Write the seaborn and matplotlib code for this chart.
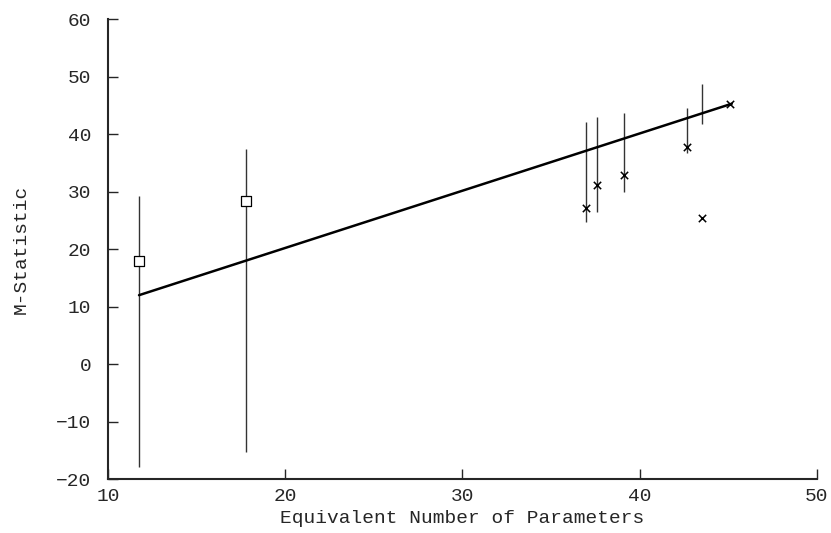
import numpy as np
import pandas as pd
import matplotlib
matplotlib.use('Agg')
import matplotlib.pyplot as plt
import seaborn as sns

# point estimates
sq_x = [11.75, 17.8]
sq_y = [18.0, 28.3]
cr_x = [36.97, 37.6, 39.1, 42.65, 43.5, 45.1]
cr_y = [27.2, 31.2, 32.9, 37.7, 25.5, 45.2]

# interval bars
bar_x = [11.75, 17.8, 36.97, 37.6, 39.1, 42.65, 43.5]
bar_lo = [-17.8, -15.2, 24.8, 26.5, 29.9, 36.7, 41.8]
bar_hi = [29.3, 37.5, 42.2, 43.0, 43.6, 44.5, 48.7]

# fitted line
fit_x = [11.75, 45.2]
fit_y = [12.0, 45.3]

sns.set_style('ticks')
plt.rcParams['font.family'] = ['Liberation Mono', 'DejaVu Sans']

fig = plt.figure(figsize=(8.31, 5.33), dpi=100)
ax = fig.add_axes([0.13, 0.101, 0.853, 0.863])

pts = pd.DataFrame({
    'x': sq_x + cr_x,
    'y': sq_y + cr_y,
    'kind': ['sq'] * len(sq_x) + ['cr'] * len(cr_x),
})

ax.vlines(bar_x, bar_lo, bar_hi, color='#333333', linewidth=1.0)
sns.lineplot(x=fit_x, y=fit_y, ax=ax, color='black', linewidth=1.8)
sns.scatterplot(data=pts[pts['kind'] == 'sq'], x='x', y='y', ax=ax,
                marker='s', s=55, facecolor='white', edgecolor='black', linewidth=0.9, zorder=3)
sns.scatterplot(data=pts[pts['kind'] == 'cr'], x='x', y='y', ax=ax,
                marker='x', s=28, color='black', linewidth=1.1, zorder=3)

ax.set_xlim(10, 50)
ax.set_ylim(-20, 60)
ax.set_xticks([10, 20, 30, 40, 50])
ax.set_yticks([-20, -10, 0, 10, 20, 30, 40, 50, 60])
ax.tick_params(direction='in', length=7, width=1, labelsize=14)
ax.tick_params(axis='y', pad=12)
ax.tick_params(axis='x', pad=6)
for s in ['left', 'bottom']:
    ax.spines[s].set_linewidth(1.5)
sns.despine(ax=ax)

ax.set_xlabel('Equivalent Number of Parameters', fontsize=14)
ax.set_ylabel('M-Statistic', fontsize=14)
ax.xaxis.set_label_coords(0.5, -0.068)
ax.yaxis.set_label_coords(-0.11, 0.5)

plt.savefig('out.png', dpi=100)
plt.close()
